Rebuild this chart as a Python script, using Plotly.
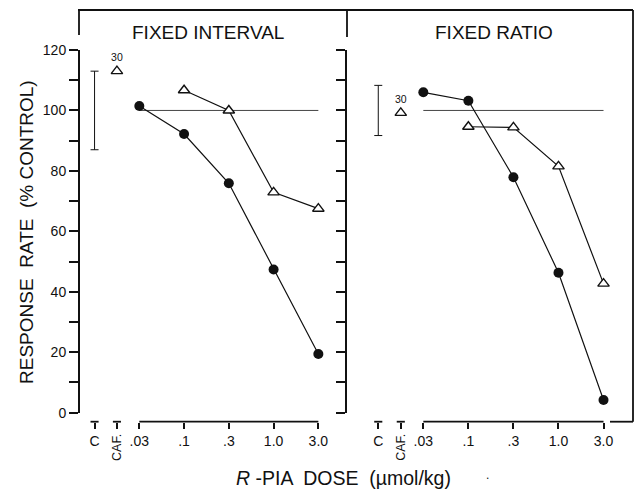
import plotly.graph_objects as go

W, H = 639, 493

# ---- data ----
doses = [".03", ".1", ".3", "1.0", "3.0"]
dose_pos = [0, 1, 2, 3, 4]
extra_labels = ["C", "CAF."]
extra_pos = [-1, -0.5]

fi_pia = [101.5, 92.2, 75.9, 47.4, 19.4]          # filled circles, fixed interval
fi_caf_pia = [None, 106.7, 100.0, 72.9, 67.5]      # open triangles, fixed interval
fi_caf_alone = 113.0
fi_control_sd = 13.0

fr_pia = [106.0, 103.2, 77.9, 46.3, 4.2]
fr_caf_pia = [None, 94.6, 94.4, 81.5, 42.7]
fr_caf_alone = 99.2
fr_control_sd = 8.3

caf_dose_label = "30"
control_value = 100

yticks = list(range(0, 121, 10))
yticktext = [str(v) if v % 20 == 0 else "" for v in yticks]

FONT = "Liberation Sans, Arial, Helvetica, sans-serif"
BLACK = "#111111"


def px(x):
    return x / W


def py(y):
    return 1 - y / H


fig = go.Figure()

panels = [
    ("x", "y", fi_pia, fi_caf_pia, fi_caf_alone, fi_control_sd),
    ("x2", "y2", fr_pia, fr_caf_pia, fr_caf_alone, fr_control_sd),
]

for xa, ya, pia, cafpia, cafalone, sd in panels:
    # control reference line
    fig.add_trace(go.Scatter(
        x=[dose_pos[0], dose_pos[-1]], y=[control_value, control_value],
        mode="lines", line=dict(color="#444444", width=1),
        xaxis=xa, yaxis=ya, showlegend=False, hoverinfo="skip"))
    # control variability bar
    fig.add_trace(go.Scatter(
        x=[extra_pos[0]], y=[control_value], mode="markers",
        marker=dict(size=1, color="rgba(0,0,0,0)"),
        error_y=dict(type="constant", value=sd, color=BLACK, thickness=1, width=4),
        xaxis=xa, yaxis=ya, showlegend=False, hoverinfo="skip", cliponaxis=False))
    # R-PIA + caffeine (open triangles)
    fig.add_trace(go.Scatter(
        x=dose_pos, y=cafpia, mode="lines+markers",
        line=dict(color=BLACK, width=1.2),
        marker=dict(symbol="triangle-up", size=10, color="white",
                    line=dict(color=BLACK, width=1.4)),
        xaxis=xa, yaxis=ya, showlegend=False, cliponaxis=False))
    # R-PIA alone (filled circles)
    fig.add_trace(go.Scatter(
        x=dose_pos, y=pia, mode="lines+markers",
        line=dict(color=BLACK, width=1.2),
        marker=dict(symbol="circle", size=10, color=BLACK),
        xaxis=xa, yaxis=ya, showlegend=False, cliponaxis=False))
    # caffeine alone
    fig.add_trace(go.Scatter(
        x=[extra_pos[1]], y=[cafalone], mode="markers+text",
        text=[caf_dose_label], textposition="top center",
        textfont=dict(size=10.5, color=BLACK, family=FONT),
        marker=dict(symbol="triangle-up", size=10, color="white",
                    line=dict(color=BLACK, width=1.4)),
        xaxis=xa, yaxis=ya, showlegend=False, cliponaxis=False))

xpos = py(421.7)
tickvals_x = extra_pos + dose_pos
ticktext_x = ["C", ""] + doses

xcommon = dict(anchor="free", position=xpos, showline=False, showgrid=False,
               zeroline=False, tickmode="array", tickvals=tickvals_x,
               ticktext=ticktext_x, ticks="outside", ticklen=6, tickwidth=1.5,
               tickcolor=BLACK, tickfont=dict(size=14, color=BLACK, family=FONT),
               automargin=False, fixedrange=True)
ycommon = dict(range=[0, 120], domain=[py(412.7), py(50)], showline=True,
               linewidth=2, linecolor=BLACK, showgrid=False, zeroline=False,
               tickmode="array", tickvals=yticks, ticks="outside", ticklen=9,
               tickwidth=1.5, tickcolor=BLACK,
               tickfont=dict(size=14, color=BLACK, family=FONT),
               automargin=False, fixedrange=True)

fig.update_layout(
    width=W, height=H,
    margin=dict(l=0, r=0, t=0, b=0),
    paper_bgcolor="white", plot_bgcolor="white",
    xaxis=dict(domain=[px(80), px(347)], range=[-1.325, 4.64], **xcommon),
    xaxis2=dict(domain=[px(347), px(633)], range=[-1.694, 4.654], **xcommon),
    yaxis=dict(anchor="x", ticktext=yticktext, showticklabels=True, **ycommon),
    yaxis2=dict(anchor="x2", ticktext=[""] * len(yticks), showticklabels=False, **ycommon),
)

shapes = []
lw = 1.8
# outer frame pieces (paper coords)
for x0, y0, x1, y1 in [
    (78, 10, 633, 10),
    (79, 10, 79, 35),
    (347, 10, 347, 37),
    (633, 10, 633, 421.7),
    (610, 421.7, 633, 421.7),
]:
    shapes.append(dict(type="line", xref="paper", yref="paper",
                       x0=px(x0), y0=py(y0), x1=px(x1), y1=py(y1),
                       line=dict(color=BLACK, width=lw)))
# x axis lines and T bars
for xr in ["x", "x2"]:
    shapes.append(dict(type="line", xref=xr, yref="paper",
                       x0=dose_pos[0], x1=dose_pos[-1], y0=xpos, y1=xpos,
                       line=dict(color=BLACK, width=lw)))
    for p in extra_pos:
        shapes.append(dict(type="line", xref=xr, yref="paper",
                           x0=p - 0.09, x1=p + 0.09, y0=xpos, y1=xpos,
                           line=dict(color=BLACK, width=lw)))

def ann(text, x, y, size, angle=0, xref="paper"):
    return dict(text=text, x=x, y=y, xref=xref, yref="paper", textangle=angle,
                showarrow=False, xanchor="center", yanchor="middle",
                font=dict(size=size, color=BLACK, family=FONT))

annotations = [
    ann("FIXED INTERVAL", px(208), py(33), 19),
    ann("FIXED RATIO", px(494), py(32), 19),
    ann("RESPONSE  RATE  (% CONTROL)", px(26), py(232), 19, angle=-90),
    ann("<i>R</i> -PIA  DOSE  (\u00b5mol/kg)", px(343), py(478), 19.5),
    ann(".", px(487), py(475), 12),
]
for xr in ["x", "x2"]:
    annotations.append(ann(extra_labels[1], extra_pos[1], py(447), 12.5,
                           angle=-90, xref=xr))

fig.update_layout(shapes=shapes, annotations=annotations)

fig.write_html("out.html")
